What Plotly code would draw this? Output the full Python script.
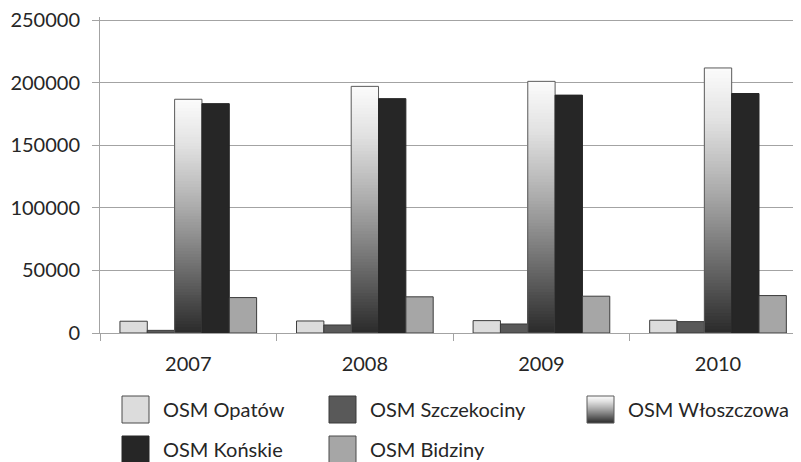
import plotly.graph_objects as go

years = ["2007", "2008", "2009", "2010"]
series_names = ["OSM Opatów", "OSM Szczekociny", "OSM Włoszczowa", "OSM Końskie", "OSM Bidziny"]
opatow = [9400, 9600, 9900, 10200]
szczekociny = [2100, 6400, 7200, 9100]
wloszczowa = [186700, 197000, 201000, 211700]
konskie = [183200, 187200, 190000, 191300]
bidziny = [28300, 28900, 29400, 29900]
y_ticks = [0, 50000, 100000, 150000, 200000, 250000]

# the page body has an 8px margin, so the figure is offset by (8, 8)
OFF = 8
W, H = 801 - OFF, 462 - OFF
L, R, T, B = 100 - OFF, 0, 17 - OFF, 129
PW, PH = W - L - R, H - T - B
Y_MAX = 252400

FONT = "Lato"
TXT = "#262626"
GRID = "#a3a3a3"

# gradient stops for the Włoszczowa bars (top -> bottom), grey level
stops = [(0.0, 252), (0.2, 225), (0.47, 170), (0.74, 106), (1.0, 42)]


def grad(t):
    for (t0, g0), (t1, g1) in zip(stops[:-1], stops[1:]):
        if t0 <= t <= t1:
            g = int(round(g0 + (g1 - g0) * (t - t0) / (t1 - t0)))
            return f"rgb({g},{g},{g})"
    g = stops[-1][1]
    return f"rgb({g},{g},{g})"


fig = go.Figure()


def solid(name, vals, color, line, og):
    fig.add_trace(go.Bar(x=years, y=vals, name=name, offsetgroup=og,
                         marker=dict(color=color, line=dict(color=line, width=1)),
                         showlegend=False, hoverinfo="y+name"))


solid(series_names[0], opatow, "#dcdcdc", "#3c3c3c", "a")
solid(series_names[1], szczekociny, "#595959", "#3a3a3a", "b")

# gradient: nested bars from the tallest (top colour) down to the shortest (bottom colour)
N = 80
for k in range(N - 1, -1, -1):
    t = 1 - (k + 0.5) / N
    fig.add_trace(go.Bar(x=years, y=[v * (k + 1) / N for v in wloszczowa], offsetgroup="c",
                         marker=dict(color=grad(t), line=dict(width=0)),
                         showlegend=False, hoverinfo="skip"))
fig.add_trace(go.Bar(x=years, y=wloszczowa, name=series_names[2], offsetgroup="c",
                     marker=dict(color="rgba(0,0,0,0)", line=dict(color="#5a5a5a", width=1)),
                     showlegend=False, hoverinfo="y+name"))

solid(series_names[3], konskie, "#262626", "#262626", "d")
solid(series_names[4], bidziny, "#a6a6a6", "#3c3c3c", "e")

fig.update_layout(
    width=W, height=H,
    margin=dict(l=L, r=R, t=T, b=B),
    paper_bgcolor="white", plot_bgcolor="white",
    barmode="group", bargap=0.226, bargroupgap=0,
    font=dict(family=FONT, size=20, color=TXT),
    showlegend=False,
)
fig.update_xaxes(range=[-0.5, 3.47], showline=True, linecolor=GRID, linewidth=1,
                 ticks="outside", tickson="boundaries", ticklen=7, tickcolor=GRID,
                 showgrid=False, ticklabelstandoff=13,
                 tickfont=dict(family=FONT, size=20, color=TXT))
fig.update_yaxes(range=[0, Y_MAX], tickvals=y_ticks, tickformat="d",
                 showline=True, linecolor=GRID, linewidth=1,
                 ticks="outside", ticklen=7, tickcolor=GRID,
                 showgrid=True, gridcolor=GRID, gridwidth=1, zeroline=False,
                 ticklabelstandoff=8, ticklabeloverflow="allow",
                 tickfont=dict(family=FONT, size=20, color=TXT))


# manual legend (page pixel positions converted to paper coords)
def px(x):
    return (x - OFF - L) / PW


def py(y):
    return (H - B - (y - OFF)) / PH


legend_items = [
    (series_names[0], 122, 396, "#dcdcdc", "#4a4a4a"),
    (series_names[1], 329, 396, "#595959", "#3a3a3a"),
    (series_names[2], 587, 396, None, "#5a5a5a"),
    (series_names[3], 122, 436, "#262626", "#262626"),
    (series_names[4], 329, 436, "#a6a6a6", "#4a4a4a"),
]
SW = 27
shapes = []
annotations = []
for name, x0, y0, fill, line in legend_items:
    if fill is None:
        n = SW
        for i in range(n):
            shapes.append(dict(type="rect", xref="paper", yref="paper",
                               x0=px(x0), x1=px(x0 + SW), y0=py(y0 + i), y1=py(y0 + i + 1.1),
                               fillcolor=grad((i + 0.5) / n), line=dict(width=0)))
        shapes.append(dict(type="rect", xref="paper", yref="paper",
                           x0=px(x0), x1=px(x0 + SW), y0=py(y0), y1=py(y0 + SW),
                           fillcolor="rgba(0,0,0,0)", line=dict(color=line, width=1)))
    else:
        shapes.append(dict(type="rect", xref="paper", yref="paper",
                           x0=px(x0), x1=px(x0 + SW), y0=py(y0), y1=py(y0 + SW),
                           fillcolor=fill, line=dict(color=line, width=1)))
    annotations.append(dict(xref="paper", yref="paper", x=px(x0 + SW + 12), y=py(y0 + 13),
                            text=name, showarrow=False, xanchor="left", yanchor="middle",
                            font=dict(family=FONT, size=20, color=TXT)))
fig.update_layout(shapes=shapes, annotations=annotations)

fig.write_html("out.html")
